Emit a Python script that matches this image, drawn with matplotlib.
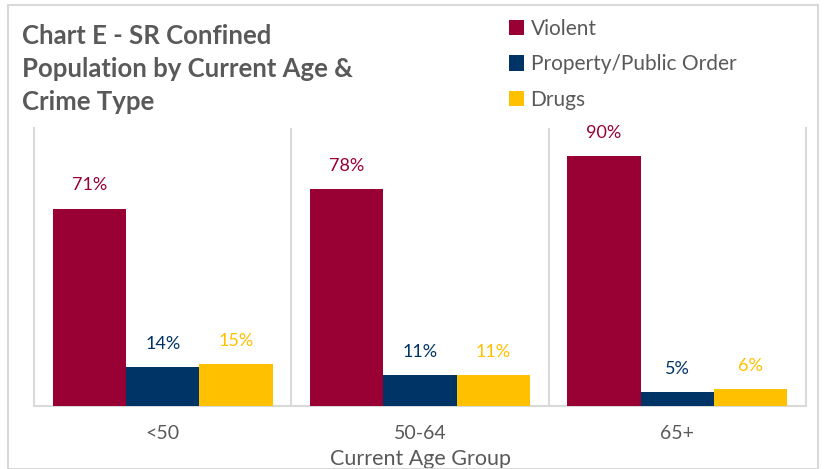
import matplotlib
matplotlib.use("Agg")
import matplotlib.pyplot as plt
from matplotlib.patches import Rectangle
import numpy as np

categories = ["<50", "50-64", "65+"]
series_names = ["Violent", "Property/Public Order", "Drugs"]
violent = [71, 78, 90]
property_public = [14, 11, 5]
drugs = [15, 11, 6]
colors = ["#990033", "#003366", "#FFC000"]
title = "Chart E - SR Confined\nPopulation by Current Age &\nCrime Type"
xlabel = "Current Age Group"

FONT = ["Lato", "DejaVu Sans"]
GRAY = "#595959"
LINE = "#d9d9d9"

fig = plt.figure(figsize=(8.27, 4.69), dpi=100)
fig.patches.append(Rectangle((8/827, 0), (818-8)/827, 1-5/469, transform=fig.transFigure,
                             fill=False, edgecolor=LINE, linewidth=1.5))
ax = fig.add_axes([34/827, 1-406/469, 772/827, (406-128)/469])

x = np.arange(len(categories))
w = 0.285
for i, (vals, c) in enumerate(zip([violent, property_public, drugs], colors)):
    pos = x + (i - 1) * w
    ax.bar(pos, vals, width=w, color=c, label=series_names[i], zorder=3)
    for xp, v in zip(pos, vals):
        ax.annotate(f"{v}%", (xp, v), xytext=(0, 11), textcoords="offset points",
                    ha="center", va="bottom", color=c, fontsize=13, family=FONT)

ax.set_xlim(-0.5, 2.5)
ax.set_ylim(0, 100)
ax.set_yticks([])
ax.set_xticks(x)
ax.set_xticklabels(categories, fontsize=14, color=GRAY, family=FONT)
ax.tick_params(axis="x", length=0, pad=14)
for b in [0.5, 1.5]:
    ax.axvline(b, color=LINE, linewidth=1.5, zorder=1)
for s in ["left", "right", "bottom"]:
    ax.spines[s].set_color(LINE)
    ax.spines[s].set_linewidth(1.5)
ax.spines["top"].set_visible(False)
ax.set_xlabel(xlabel, fontsize=15.5, color=GRAY, family=FONT, labelpad=5)

fig.text(22/827, 1-24/469, title, ha="left", va="top", fontsize=18.5, fontweight="bold",
         color=GRAY, family=FONT, linespacing=1.45)

handles, labels = ax.get_legend_handles_labels()
leg = fig.legend(handles, labels, loc="upper left", bbox_to_anchor=(490/827, 1-0/469),
                 frameon=False, handlelength=0.75, handleheight=0.75,
                 handletextpad=0.3, labelspacing=0.75, prop={"family": FONT, "size": 15})
for t in leg.get_texts():
    t.set_color(GRAY)

fig.savefig("out.png", dpi=100)
